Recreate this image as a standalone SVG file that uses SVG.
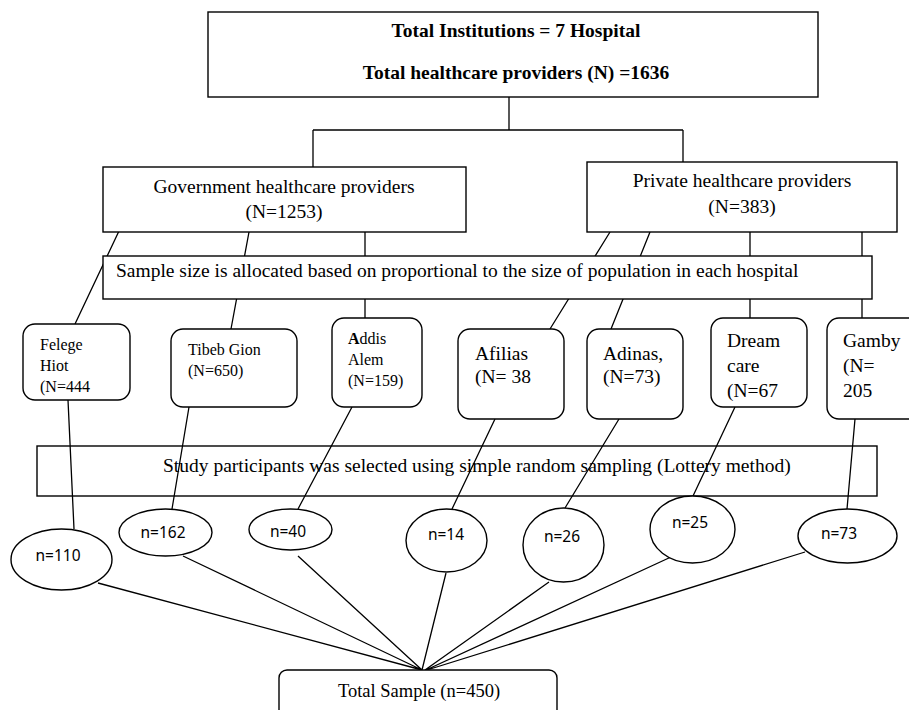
<svg xmlns="http://www.w3.org/2000/svg" width="909" height="710" viewBox="0 0 909 710">
<style>
.box{fill:#fff;stroke:#000;stroke-width:1.4}
.open{fill:none;stroke:#000;stroke-width:1.4}
.ln{fill:none;stroke:#000;stroke-width:1.3}
.t{font-family:"Liberation Serif","Times New Roman",serif;font-size:19.5px;fill:#000}
.tb{font-family:"Liberation Serif","Times New Roman",serif;font-size:19.5px;font-weight:bold;fill:#000}
.ts{font-family:"Liberation Serif","Times New Roman",serif;font-size:16px;fill:#000}
.s{font-family:"Noto Sans","Open Sans",sans-serif;font-size:15.5px;fill:#000;text-anchor:middle}
</style>
<rect width="909" height="710" fill="#fff"/>
<g id="connectors">
<path class="ln" d="M509,97V130M313,130H683M313,130V167M683,130V162"/>
<path class="ln" d="M119,231L75,324M249,232L231,329M365,232V318M610,232L550,329M650,232L611,329M750,232V318M862,232V318"/>
<path class="ln" d="M68,400L74,529M189,407L172,509M352,407L298,509M495,419L452,509M619,419L565,508M735,407L693,496M855,419L847,509"/>
<path class="ln" d="M98,583L422,670M183,556L422,670M298,556L422,670M446,573L422,670M549,582L425,670M671,557L426,670M805,552L427,670"/>
</g>
<g id="top">
<rect class="box" x="208" y="12" width="610" height="85"/>
<text class="tb" x="516" y="37" text-anchor="middle">Total Institutions = 7 Hospital</text>
<text class="tb" x="516" y="79" text-anchor="middle">Total healthcare providers (N) =1636</text>
</g>
<g id="gov">
<rect class="box" x="103" y="167" width="363" height="65"/>
<text class="t" x="284" y="193" text-anchor="middle">Government healthcare providers</text>
<text class="t" x="284" y="218" text-anchor="middle">(N=1253)</text>
</g>
<g id="private">
<rect class="box" x="587" y="162" width="310" height="70"/>
<text class="t" x="742" y="187" text-anchor="middle">Private healthcare providers</text>
<text class="t" x="742" y="213" text-anchor="middle">(N=383)</text>
</g>
<g id="allocation">
<rect class="box" x="103" y="256" width="769" height="43"/>
<text class="t" x="116" y="277">Sample size is allocated based on proportional to the size of population in each hospital</text>
</g>
<g id="felege">
<rect class="box" x="23" y="324" width="107" height="76" rx="12"/>
<text class="ts" x="40" y="350">Felege</text>
<text class="ts" x="40" y="371">Hiot</text>
<text class="ts" x="40" y="392">(N=444</text>
</g>
<g id="tibeb">
<rect class="box" x="171" y="329" width="126" height="78" rx="12"/>
<text class="ts" x="188" y="355">Tibeb Gion</text>
<text class="ts" x="188" y="376">(N=650)</text>
</g>
<g id="addis">
<rect class="box" x="332" y="318" width="90" height="89" rx="12"/>
<text class="ts" x="348" y="344"><tspan font-weight="bold">A</tspan>ddis</text>
<text class="ts" x="348" y="365">Alem</text>
<text class="ts" x="348" y="386">(N=159)</text>
</g>
<g id="afilias">
<rect class="box" x="458" y="329" width="106" height="90" rx="12"/>
<text class="t" x="475" y="360">Afilias</text>
<text class="t" x="475" y="383">(N= 38</text>
</g>
<g id="adinas">
<rect class="box" x="587" y="329" width="96" height="90" rx="12"/>
<text class="t" x="603" y="360">Adinas,</text>
<text class="t" x="603" y="383">(N=73)</text>
</g>
<g id="dream">
<rect class="box" x="711" y="318" width="96" height="89" rx="12"/>
<text class="t" x="727" y="347">Dream</text>
<text class="t" x="727" y="372">care</text>
<text class="t" x="727" y="397">(N=67</text>
</g>
<g id="gamby">
<rect class="box" x="827" y="318" width="96" height="101" rx="12"/>
<text class="t" x="843" y="347">Gamby</text>
<text class="t" x="843" y="372">(N=</text>
<text class="t" x="843" y="397">205</text>
</g>
<g id="selection">
<rect class="open" x="37" y="446" width="840" height="50"/>
<text class="t" x="163" y="472">Study participants was selected using simple random sampling (Lottery method)</text>
</g>
<g id="n110"><ellipse class="box" cx="61.5" cy="559.5" rx="50.5" ry="30.5"/><text class="s" x="58" y="561">n=110</text></g>
<g id="n162"><ellipse class="box" cx="165.5" cy="532.5" rx="46.5" ry="23.5"/><text class="s" x="163" y="538">n=162</text></g>
<g id="n40"><ellipse class="box" cx="290.5" cy="529.5" rx="41.5" ry="20.5"/><text class="s" x="288" y="537">n=40</text></g>
<g id="n14"><ellipse class="box" cx="446.5" cy="540.5" rx="40.5" ry="31.5"/><text class="s" x="446" y="540">n=14</text></g>
<g id="n26"><ellipse class="box" cx="563.5" cy="545" rx="40.5" ry="37"/><text class="s" x="562" y="542">n=26</text></g>
<g id="n25"><ellipse class="box" cx="692.5" cy="529.5" rx="42.5" ry="33.5"/><text class="s" x="690" y="528">n=25</text></g>
<g id="n73"><ellipse class="box" cx="847.5" cy="536" rx="49.5" ry="27"/><text class="s" x="839" y="539">n=73</text></g>
<g id="total">
<rect class="box" x="279" y="670" width="278" height="50" rx="8"/>
<text class="t" x="419" y="697" text-anchor="middle" style="font-size:18.5px">Total Sample (n=450)</text>
</g>
</svg>
